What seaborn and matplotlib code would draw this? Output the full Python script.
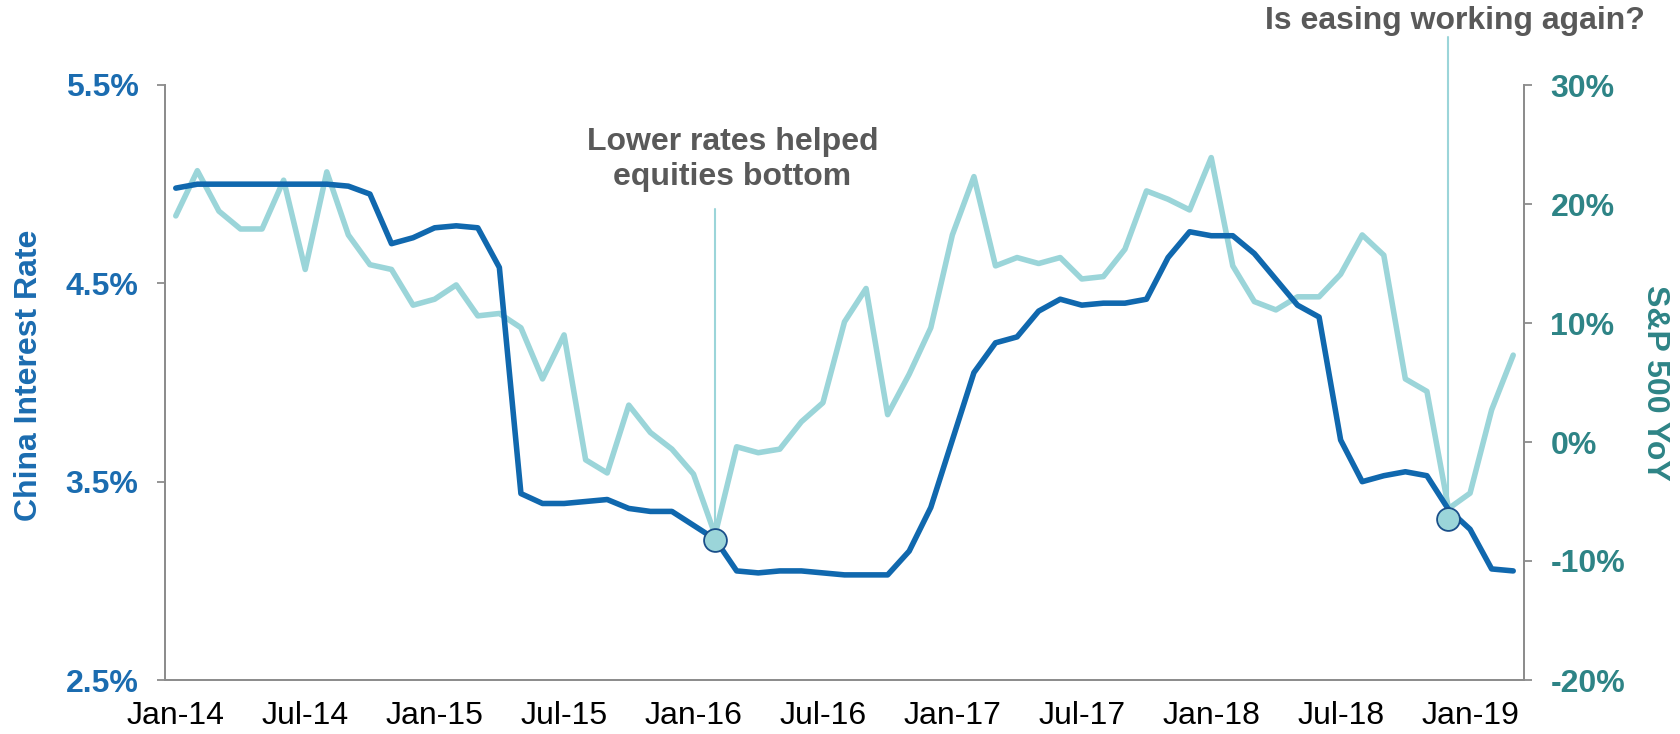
import numpy as np
import pandas as pd
import matplotlib
matplotlib.use("Agg")
import matplotlib.pyplot as plt
import seaborn as sns

# ---- data ----
months = pd.date_range("2014-01-01", periods=63, freq="MS")
china_rate = [4.98, 5.00, 5.00, 5.00, 5.00, 5.00, 5.00, 5.00, 4.99, 4.95,
              4.70, 4.73, 4.78, 4.79, 4.78, 4.58, 3.44, 3.39, 3.39, 3.40,
              3.41, 3.365, 3.35, 3.35, 3.28, 3.21, 3.05, 3.04, 3.05, 3.05,
              3.04, 3.03, 3.03, 3.03, 3.15, 3.37, 3.71, 4.05, 4.20, 4.23,
              4.36, 4.42, 4.39, 4.40, 4.40, 4.42, 4.63, 4.76, 4.74, 4.74,
              4.65, 4.52, 4.39, 4.33, 3.71, 3.50, 3.53, 3.55, 3.53, 3.36,
              3.26, 3.06, 3.05]
spx_yoy = [19.0, 22.8, 19.4, 17.9, 17.9, 22.0, 14.5, 22.7, 17.4, 14.9,
           14.5, 11.5, 12.0, 13.2, 10.6, 10.8, 9.6, 5.3, 9.0, -1.5,
           -2.6, 3.1, 0.8, -0.6, -2.7, -7.8, -0.4, -0.9, -0.6, 1.7,
           3.3, 10.1, 12.9, 2.3, 5.7, 9.6, 17.4, 22.3, 14.8, 15.5,
           15.0, 15.5, 13.7, 13.9, 16.2, 21.1, 20.4, 19.5, 23.9, 14.8,
           11.8, 11.1, 12.2, 12.2, 14.1, 17.4, 15.7, 5.3, 4.25, -5.6,
           -4.3, 2.7, 7.3]
marker_idx = [25, 59]
marker_val = [-8.2, -6.5]
left_ticks = [2.5, 3.5, 4.5, 5.5]
right_ticks = [-20, -10, 0, 10, 20, 30]
x_tick_idx = [0, 6, 12, 18, 24, 30, 36, 42, 48, 54, 60]
x_tick_labels = ["Jan-14", "Jul-14", "Jan-15", "Jul-15", "Jan-16", "Jul-16",
                 "Jan-17", "Jul-17", "Jan-18", "Jul-18", "Jan-19"]
annot_texts = ["Lower rates helped\nequities bottom", "Is easing working again?"]
annot_tops = [19.6, 34.0]     # top of vertical guide lines (right-axis units)
annot_text_pos = [(26.3, 23.75), (59.8, 35.4)]

# ---- style ----
sns.set_theme(style="white")
plt.rcParams['font.family'] = ['Liberation Sans', 'DejaVu Sans']

DARK = "#1068AE"
LIGHT = "#9BD5D9"
LEFT_TXT = "#1B6CB0"
RIGHT_TXT = "#2E8486"
GREY_TXT = "#595959"
AXIS = "#8C8C8C"
FS = 23

df = pd.DataFrame({"pos": np.arange(len(months)) + 0.5,
                   "rate": china_rate, "spx": spx_yoy})

fig = plt.figure(figsize=(16.8, 7.34), dpi=100)
ax = fig.add_axes([165/1680, 1-680/734, (1524-165)/1680, (680-85)/734])
ax2 = ax.twinx()

sns.lineplot(data=df, x="pos", y="spx", ax=ax2, color=LIGHT, lw=4.0, zorder=2)
sns.lineplot(data=df, x="pos", y="rate", ax=ax, color=DARK, lw=4.0, zorder=3)

ax.set_zorder(ax2.get_zorder() + 1)
ax.patch.set_visible(False)

ax.set_xlim(0, 63)
ax.set_ylim(2.5, 5.5)
ax2.set_ylim(-20, 30)

mk_x = [i + 0.5 for i in marker_idx]
to_left = lambda v: 2.5 + (v + 20) / 50 * 3.0
for xm, vm, top in zip(mk_x, marker_val, annot_tops):
    ax.plot([xm, xm], [to_left(vm), to_left(top)], color=LIGHT, lw=1.5,
            zorder=1, clip_on=False)
ax.scatter(mk_x, [to_left(v) for v in marker_val], s=270, color=LIGHT,
           edgecolor="#1A4F8A", linewidth=1.3, zorder=5, clip_on=False)

for txt, (tx, ty) in zip(annot_texts, annot_text_pos):
    ax.text(tx, to_left(ty), txt, ha="center", va="center", fontsize=FS,
            fontweight="bold", color=GREY_TXT, linespacing=1.2, clip_on=False)

for a in (ax, ax2):
    for s in a.spines.values():
        s.set_color(AXIS)
        s.set_linewidth(1.3)
    a.spines["top"].set_visible(False)
    a.set_xlabel("")
    a.set_ylabel("")
    a.grid(False)

ax.set_yticks(left_ticks)
ax.set_yticklabels([f"{v:.1f}%" for v in left_ticks])
ax2.set_yticks(right_ticks)
ax2.set_yticklabels([f"{v}%" for v in right_ticks])

ax.tick_params(axis="y", which="major", direction="out", length=6, width=1.3,
               color=AXIS, labelsize=FS, labelcolor=LEFT_TXT, pad=13, left=True)
ax2.tick_params(axis="y", which="major", direction="out", length=6, width=1.3,
                color=AXIS, labelsize=FS, labelcolor=RIGHT_TXT, pad=13, right=True)
for lab in ax.get_yticklabels():
    lab.set_fontweight("bold")
for lab in ax2.get_yticklabels():
    lab.set_fontweight("bold")

ax.set_xticks(x_tick_idx)
ax.set_xticklabels([])
ax.set_xticks([i + 0.5 for i in x_tick_idx], minor=True)
ax.set_xticklabels(x_tick_labels, minor=True)
ax.tick_params(axis="x", which="major", direction="out", length=8, width=1.3,
               color=AXIS, bottom=True)
ax.tick_params(axis="x", which="minor", length=0, labelsize=FS,
               labelcolor="black", pad=15, bottom=True)
ax2.set_xticks([])

fig.text(29/1680, 1-375/734, "China Interest Rate", rotation=90, ha="center",
         va="center", fontsize=FS, fontweight="bold", color=LEFT_TXT)
fig.text(1655/1680, 1-383/734, "S&P 500 YoY", rotation=270, ha="center",
         va="center", fontsize=FS, fontweight="bold", color=RIGHT_TXT)

fig.savefig("out.png", dpi=100)
